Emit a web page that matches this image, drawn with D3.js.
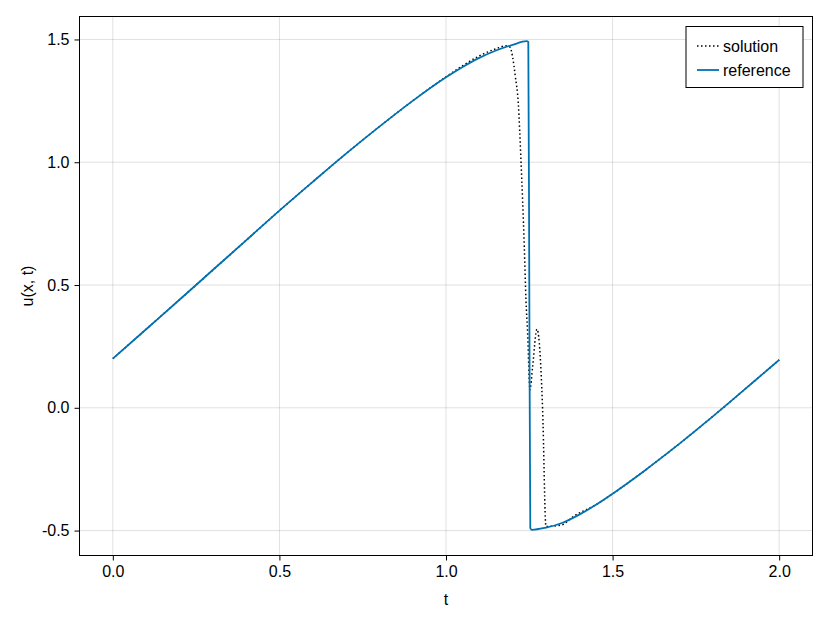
<!DOCTYPE html>
<html>
<head>
<meta charset="utf-8">
<script src="https://cdn.jsdelivr.net/npm/d3@7"></script>
<style>
  html, body { margin: 0; padding: 0; background: #fff; }
  svg { display: block; font-family: "Liberation Sans", Arial, sans-serif; }
</style>
</head>
<body>
<svg id="chart" width="830" height="623"></svg>
<script>
// ---- data ----
const referenceT = [0, 0.1, 0.2, 0.3, 0.4, 0.5, 0.6, 0.7, 0.8, 0.9, 1.0, 1.05, 1.1, 1.15, 1.2, 1.242, 1.247, 1.25, 1.253, 1.258, 1.3, 1.35, 1.4, 1.45, 1.5, 1.55, 1.6, 1.65, 1.7, 1.75, 1.8, 1.85, 1.9, 1.95, 2.0];
const referenceU = [0.2, 0.32, 0.44, 0.561, 0.682, 0.803, 0.92, 1.035, 1.145, 1.25, 1.346, 1.388, 1.425, 1.455, 1.478, 1.493, 1.49, 0.5, -0.49, -0.497, -0.488, -0.468, -0.435, -0.395, -0.35, -0.302, -0.252, -0.2, -0.147, -0.092, -0.036, 0.021, 0.079, 0.137, 0.195];

const solutionT = [0, 0.1, 0.2, 0.3, 0.4, 0.5, 0.6, 0.7, 0.8, 0.9, 1.0, 1.05, 1.1, 1.15, 1.18, 1.192, 1.2, 1.208, 1.217, 1.225, 1.235, 1.24, 1.245, 1.252, 1.26, 1.273, 1.28, 1.29, 1.30, 1.345, 1.385, 1.45, 1.5, 1.55, 1.6, 1.65, 1.7, 1.75, 1.8, 1.85, 1.9, 1.95, 2.0];
const solutionU = [0.2, 0.32, 0.44, 0.561, 0.682, 0.803, 0.92, 1.035, 1.145, 1.25, 1.348, 1.393, 1.433, 1.462, 1.474, 1.469, 1.428, 1.35, 1.239, 1.008, 0.656, 0.44, 0.305, 0.073, 0.168, 0.32, 0.264, -0.008, -0.483, -0.478, -0.44, -0.395, -0.35, -0.302, -0.252, -0.2, -0.147, -0.092, -0.036, 0.021, 0.079, 0.137, 0.195];

const xTicks = [0.0, 0.5, 1.0, 1.5, 2.0];
const yTicks = [-0.5, 0.0, 0.5, 1.0, 1.5];
const seriesNames = ["solution", "reference"];

// ---- layout ----
const svg = d3.select("#chart");
const L = 79.5, T = 16.5, R = 812.5, B = 555.5;
const x = d3.scaleLinear().domain([-0.1, 2.1]).range([L, R]);
const y = d3.scaleLinear().domain([-0.6015, 1.5935]).range([B, T]);
const blue = "rgb(0,114,178)";
const FS = 16;
const fmt = d => (d < 0 ? "-" : "") + Math.abs(d).toFixed(1);

// grid
const grid = svg.append("g");
grid.selectAll(".gx").data(xTicks).join("line")
  .attr("x1", d => x(d)).attr("x2", d => x(d)).attr("y1", T).attr("y2", B)
  .attr("stroke", "rgba(0,0,0,0.12)").attr("stroke-width", 1);
grid.selectAll(".gy").data(yTicks).join("line")
  .attr("y1", d => y(d)).attr("y2", d => y(d)).attr("x1", L).attr("x2", R)
  .attr("stroke", "rgba(0,0,0,0.12)").attr("stroke-width", 1);

// clip
svg.append("clipPath").attr("id", "clip").append("rect")
  .attr("x", L).attr("y", T).attr("width", R - L).attr("height", B - T);

const line = d3.line().x(d => x(d[0])).y(d => y(d[1])).curve(d3.curveMonotoneX);
const solData = solutionT.map((t, i) => [t, solutionU[i]]);
const refData = referenceT.map((t, i) => [t, referenceU[i]]);

const plot = svg.append("g").attr("clip-path", "url(#clip)");
plot.append("path").datum(solData).attr("d", line)
  .attr("fill", "none").attr("stroke", "#000").attr("stroke-width", 1.5)
  .attr("stroke-dasharray", "1.5 2.5");
plot.append("path").datum(refData).attr("d", line)
  .attr("fill", "none").attr("stroke", blue).attr("stroke-width", 1.8)
  .attr("stroke-linejoin", "round");

// axes
const xAxis = d3.axisBottom(x).tickValues(xTicks).tickFormat(fmt).tickSize(5).tickPadding(5);
const yAxis = d3.axisLeft(y).tickValues(yTicks).tickFormat(fmt).tickSize(5).tickPadding(5);
const gx = svg.append("g").attr("transform", `translate(0,${B})`).call(xAxis);
const gy = svg.append("g").attr("transform", `translate(${L},0)`).call(yAxis);
[gx, gy].forEach(g => {
  g.select(".domain").remove();
  g.selectAll("text").attr("font-size", FS).attr("fill", "#000")
    .attr("font-family", "'Liberation Sans', Arial, sans-serif");
  g.selectAll(".tick line").attr("stroke", "#000");
});

// frame
svg.append("rect").attr("x", L).attr("y", T).attr("width", R - L).attr("height", B - T)
  .attr("fill", "none").attr("stroke", "#000").attr("stroke-width", 1);

// axis labels
svg.append("text").attr("x", (L + R) / 2).attr("y", 605).attr("text-anchor", "middle")
  .attr("font-size", FS).text("t");
svg.append("text").attr("transform", `translate(33,${(T + B) / 2}) rotate(-90)`)
  .attr("text-anchor", "middle").attr("font-size", FS).text("u(x, t)");

// legend
const lg = svg.append("g");
lg.append("rect").attr("x", 686).attr("y", 26.5).attr("width", 117).attr("height", 61)
  .attr("fill", "#fff").attr("stroke", "#000").attr("stroke-width", 1);
const rows = [
  { name: seriesNames[0], color: "#000", dash: "1.5 2.5", w: 1.5 },
  { name: seriesNames[1], color: blue, dash: null, w: 1.8 }
];
rows.forEach((r, i) => {
  const cy = 46 + i * 24;
  lg.append("line").attr("x1", 697).attr("x2", 719).attr("y1", cy).attr("y2", cy)
    .attr("stroke", r.color).attr("stroke-width", r.w)
    .attr("stroke-dasharray", r.dash);
  lg.append("text").attr("x", 723).attr("y", cy).attr("dy", "0.35em")
    .attr("font-size", FS).text(r.name);
});
</script>
</body>
</html>
